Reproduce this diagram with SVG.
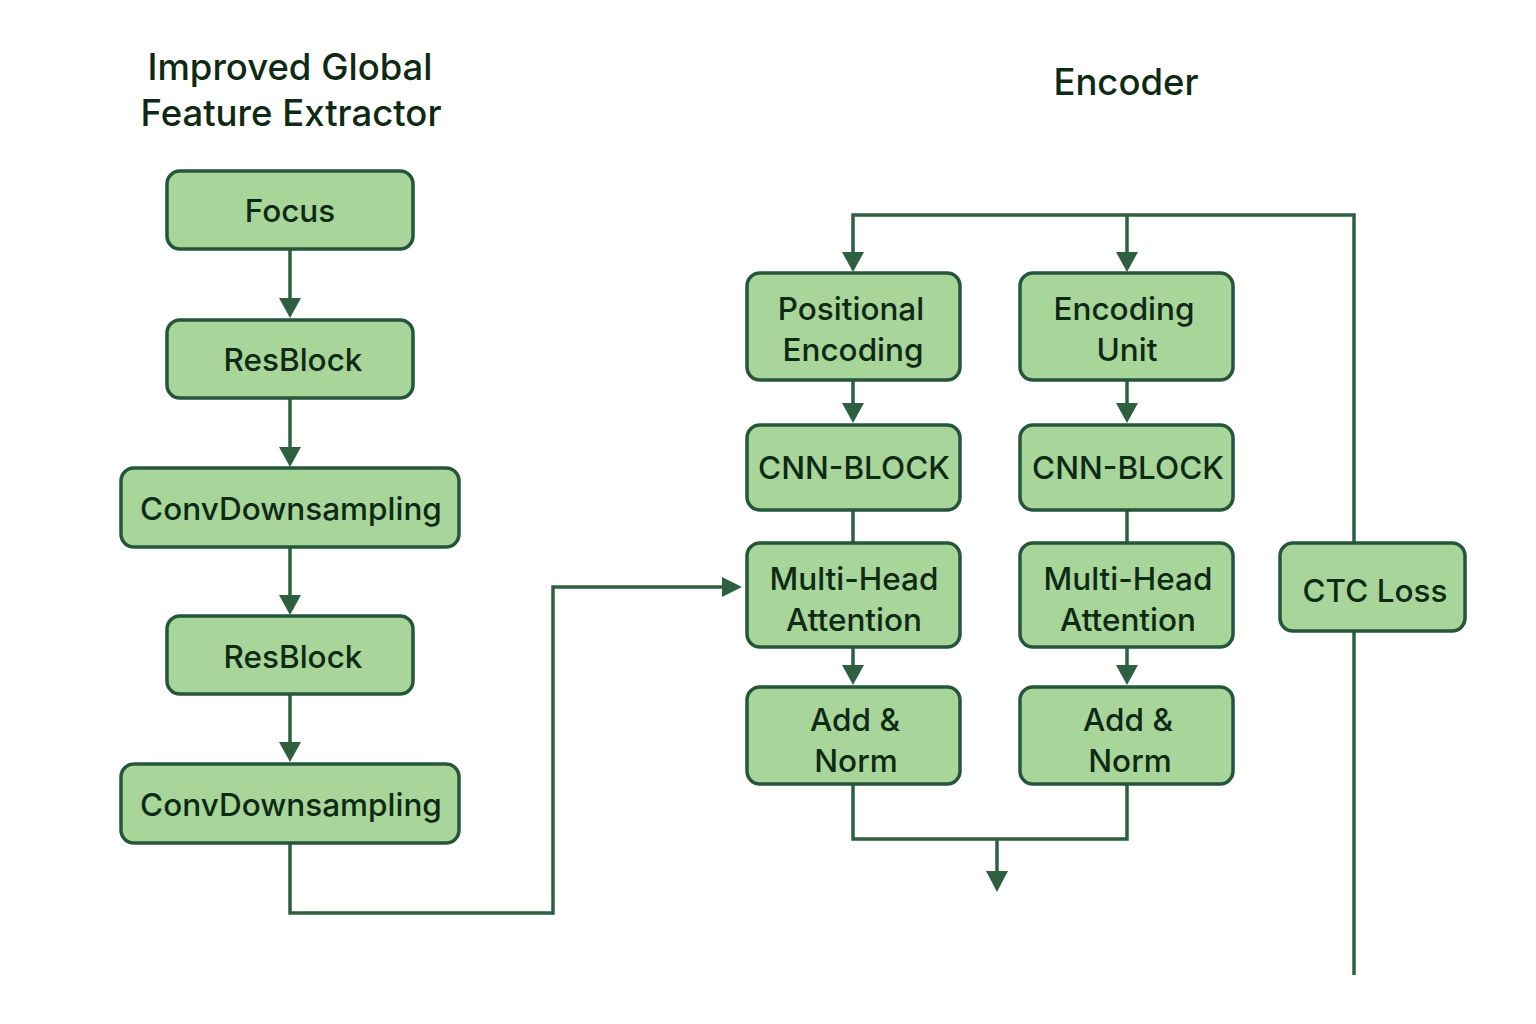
<svg xmlns="http://www.w3.org/2000/svg" width="1536" height="1024" viewBox="0 0 1536 1024">
<style>
.box{fill:#a8d59a;stroke:#25553a;stroke-width:3.5}
.lbl{font-family:Inter,"Open Sans",sans-serif;font-size:31.5px;font-weight:500;fill:#0f2a14;text-anchor:middle}
.title{font-family:Inter,"Open Sans",sans-serif;font-size:36.5px;font-weight:500;fill:#0f2a14;text-anchor:middle}
.ln{fill:none;stroke:#2e6040;stroke-width:3.5}
.hd{fill:#2e6040}
</style>
<rect width="1536" height="1024" fill="#ffffff"/>
<text class="title" x="290" y="80">Improved Global</text>
<text class="title" x="291" y="126">Feature Extractor</text>
<text class="title" x="1126" y="95">Encoder</text>

<g id="connectors">
<path class="ln" d="M290,249 V300"/><path class="hd" d="M279,298 L301,298 L290,318 z"/>
<path class="ln" d="M290,398 V450"/><path class="hd" d="M279,447 L301,447 L290,467 z"/>
<path class="ln" d="M290,547 V598"/><path class="hd" d="M279,595 L301,595 L290,615 z"/>
<path class="ln" d="M290,694 V745"/><path class="hd" d="M279,742 L301,742 L290,762 z"/>
<path class="ln" d="M290,843 V913 H553 V587 H725"/><path class="hd" d="M722,577 L742,587 L722,597 z"/>
<path class="ln" d="M853,255 V215 H1354 V543"/>
<path class="ln" d="M1127,215 V255"/>
<path class="hd" d="M842,252 L864,252 L853,272 z"/>
<path class="hd" d="M1116,252 L1138,252 L1127,272 z"/>
<path class="ln" d="M853,380 V405"/><path class="hd" d="M842,403 L864,403 L853,423 z"/>
<path class="ln" d="M1127,380 V405"/><path class="hd" d="M1116,403 L1138,403 L1127,423 z"/>
<path class="ln" d="M853,510 V543"/>
<path class="ln" d="M1127,510 V543"/>
<path class="ln" d="M853,647 V667"/><path class="hd" d="M842,665 L864,665 L853,685 z"/>
<path class="ln" d="M1127,647 V667"/><path class="hd" d="M1116,665 L1138,665 L1127,685 z"/>
<path class="ln" d="M853,784 V839 H1127 V784"/>
<path class="ln" d="M997,839 V873"/><path class="hd" d="M986,871 L1008,871 L997,892 z"/>
<path class="ln" d="M1354,631 V975"/>
</g>

<g id="focus"><rect class="box" x="167" y="171" width="246" height="78" rx="13"/><text class="lbl" x="290" y="222">Focus</text></g>
<g id="resblock1"><rect class="box" x="167" y="320" width="246" height="78" rx="13"/><text class="lbl" x="293" y="371">ResBlock</text></g>
<g id="convdown1"><rect class="box" x="121" y="468" width="338" height="79" rx="13"/><text class="lbl" x="291" y="520">ConvDownsampling</text></g>
<g id="resblock2"><rect class="box" x="167" y="616" width="246" height="78" rx="13"/><text class="lbl" x="293" y="668">ResBlock</text></g>
<g id="convdown2"><rect class="box" x="121" y="764" width="338" height="79" rx="13"/><text class="lbl" x="291" y="816">ConvDownsampling</text></g>

<g id="posenc"><rect class="box" x="747" y="273" width="213" height="107" rx="13"/><text class="lbl" x="851" y="320">Positional</text><text class="lbl" x="853" y="361">Encoding</text></g>
<g id="encunit"><rect class="box" x="1020" y="273" width="213" height="107" rx="13"/><text class="lbl" x="1124" y="320">Encoding</text><text class="lbl" x="1127" y="361">Unit</text></g>
<g id="cnn1"><rect class="box" x="747" y="425" width="213" height="85" rx="13"/><text class="lbl" x="854" y="479">CNN-BLOCK</text></g>
<g id="cnn2"><rect class="box" x="1020" y="425" width="213" height="85" rx="13"/><text class="lbl" x="1128" y="479">CNN-BLOCK</text></g>
<g id="mha1"><rect class="box" x="747" y="543" width="213" height="104" rx="13"/><text class="lbl" x="854" y="590">Multi-Head</text><text class="lbl" x="854" y="631">Attention</text></g>
<g id="mha2"><rect class="box" x="1020" y="543" width="213" height="104" rx="13"/><text class="lbl" x="1128" y="590">Multi-Head</text><text class="lbl" x="1128" y="631">Attention</text></g>
<g id="addnorm1"><rect class="box" x="747" y="687" width="213" height="97" rx="13"/><text class="lbl" x="855" y="731">Add &amp;</text><text class="lbl" x="856" y="772">Norm</text></g>
<g id="addnorm2"><rect class="box" x="1020" y="687" width="213" height="97" rx="13"/><text class="lbl" x="1128" y="731">Add &amp;</text><text class="lbl" x="1130" y="772">Norm</text></g>
<g id="ctc"><rect class="box" x="1280" y="543" width="185" height="88" rx="13"/><text class="lbl" x="1375" y="602">CTC Loss</text></g>
</svg>
